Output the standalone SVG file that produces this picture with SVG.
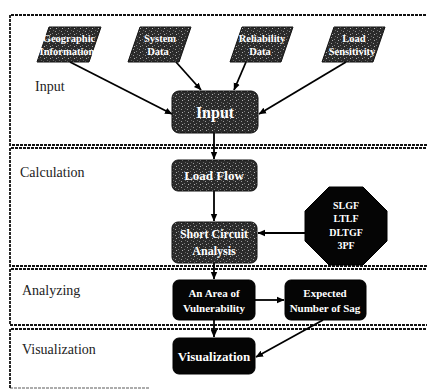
<svg xmlns="http://www.w3.org/2000/svg" width="427" height="390" viewBox="0 0 427 390">
  <defs>
    <style>
      .sec { fill: none; stroke: #111; stroke-width: 1.8; stroke-dasharray: 3 1; }
      .slabel { font-family: "Liberation Serif", "DejaVu Serif", serif; font-size: 14px; fill: #222; }
      .solid { fill: #050505; stroke: #000; stroke-width: 1; }
      .nt { font-family: "Liberation Serif", "DejaVu Serif", serif; font-weight: bold; fill: #fff; text-anchor: middle; }
      .conn { stroke: #000; stroke-width: 1.8; fill: none; marker-end: url(#arr); }
    </style>
    <marker id="arr" markerWidth="8" markerHeight="8" refX="7" refY="4" orient="auto" markerUnits="userSpaceOnUse">
      <path d="M0,0.8 L7.5,4 L0,7.2 Z" fill="#000"/>
    </marker>
    <pattern id="speck" width="6" height="6" patternUnits="userSpaceOnUse">
      <rect width="6" height="6" fill="#2b2b2b"/>
      <rect x="1" y="1" width="1" height="1" fill="#9a9a9a"/>
      <rect x="4" y="3" width="1" height="1" fill="#7a7a7a"/>
      <rect x="2" y="4" width="1" height="1" fill="#b0b0b0"/>
      <rect x="5" y="0" width="1" height="1" fill="#666"/>
    </pattern>
  </defs>

  <g id="sections">
    <path class="sec" d="M430,15 H10 V145 H430"/>
    <path class="sec" d="M430,148 H10 V266 H430"/>
    <path class="sec" d="M430,269 H10 V325 H430"/>
    <path class="sec" d="M430,329 H10 V388"/>
    <path class="sec" d="M10,388 H150" stroke-opacity="0.35"/>
    <text class="slabel" x="35" y="91">Input</text>
    <text class="slabel" x="20" y="177">Calculation</text>
    <text class="slabel" x="22" y="295">Analyzing</text>
    <text class="slabel" x="22" y="354">Visualization</text>
  </g>

  <g id="connectors">
    <line class="conn" x1="70" y1="62" x2="172" y2="114"/>
    <line class="conn" x1="176" y1="62" x2="201" y2="90"/>
    <line class="conn" x1="246" y1="62" x2="234" y2="90"/>
    <line class="conn" x1="346" y1="62" x2="259" y2="114"/>
    <line class="conn" x1="214" y1="133" x2="214" y2="159"/>
    <line class="conn" x1="214" y1="191" x2="214" y2="221"/>
    <line class="conn" x1="305" y1="233" x2="258" y2="233"/>
    <line class="conn" x1="214" y1="263" x2="214" y2="279"/>
    <line class="conn" x1="255" y1="300" x2="284" y2="300"/>
    <line class="conn" x1="214" y1="320" x2="214" y2="337"/>
    <line class="conn" x1="323" y1="320" x2="256" y2="357"/>
  </g>

  <g id="n-geo">
    <polygon points="49,27 101,27 89,62 37,62" fill="url(#speck)" stroke="#111"/>
    <text class="nt" font-size="10.5" x="69" y="42">Geographic</text>
    <text class="nt" font-size="10.5" x="67" y="55">Information</text>
  </g>
  <g id="n-sys">
    <polygon points="140,27 191,27 179,62 128,62" fill="url(#speck)" stroke="#111"/>
    <text class="nt" font-size="10.5" x="160" y="42">System</text>
    <text class="nt" font-size="10.5" x="158" y="55">Data</text>
  </g>
  <g id="n-rel">
    <polygon points="242,27 293,27 281,62 230,62" fill="url(#speck)" stroke="#111"/>
    <text class="nt" font-size="10.5" x="262" y="42">Reliability</text>
    <text class="nt" font-size="10.5" x="260" y="55">Data</text>
  </g>
  <g id="n-load">
    <polygon points="334,27 385,27 373,62 322,62" fill="url(#speck)" stroke="#111"/>
    <text class="nt" font-size="10.5" x="354" y="42">Load</text>
    <text class="nt" font-size="10.5" x="352" y="55">Sensitivity</text>
  </g>

  <g id="n-input">
    <rect x="172" y="91" width="86" height="42" rx="7" fill="url(#speck)" stroke="#111"/>
    <text class="nt" font-size="16" font-weight="normal" x="215" y="118">Input</text>
  </g>
  <g id="n-loadflow">
    <rect x="172" y="160" width="85" height="31" rx="6" fill="url(#speck)" stroke="#111"/>
    <text class="nt" font-size="13" x="214" y="180">Load Flow</text>
  </g>
  <g id="n-short">
    <rect x="172" y="222" width="85" height="41" rx="6" fill="url(#speck)" stroke="#111"/>
    <text class="nt" font-size="12" x="214" y="238">Short Circuit</text>
    <text class="nt" font-size="12" x="214" y="255">Analysis</text>
  </g>
  <g id="n-faults">
    <polygon class="solid" points="329,187 363,187 387,211 387,241 363,265 329,265 305,241 305,211"/>
    <text class="nt" font-size="10" x="346" y="209">SLGF</text>
    <text class="nt" font-size="10" x="346" y="222">LTLF</text>
    <text class="nt" font-size="10" x="346" y="236">DLTGF</text>
    <text class="nt" font-size="10" x="346" y="249">3PF</text>
  </g>
  <g id="n-area">
    <rect class="solid" x="173" y="280" width="82" height="40" rx="6"/>
    <text class="nt" font-size="11" x="214" y="297">An Area of</text>
    <text class="nt" font-size="11" x="214" y="312">Vulnerability</text>
  </g>
  <g id="n-sag">
    <rect class="solid" x="285" y="280" width="81" height="40" rx="6"/>
    <text class="nt" font-size="11" x="325" y="297">Expected</text>
    <text class="nt" font-size="11" x="325" y="312">Number of Sag</text>
  </g>
  <g id="n-vis">
    <rect class="solid" x="173" y="338" width="82" height="36" rx="6"/>
    <text class="nt" font-size="13" x="214" y="361">Visualization</text>
  </g>
</svg>
